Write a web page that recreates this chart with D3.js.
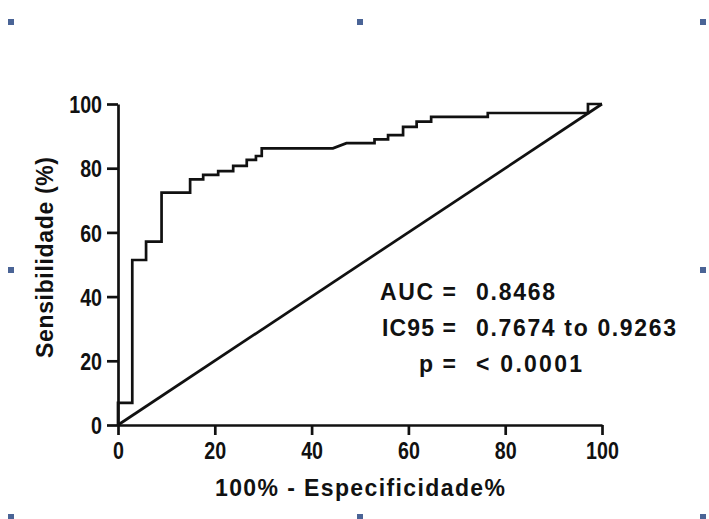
<!DOCTYPE html>
<html>
<head>
<meta charset="utf-8">
<script src="https://cdn.jsdelivr.net/npm/d3@7"></script>
<style>
  body { margin: 0; background: #fff; }
  svg { display: block; }
  .tick text { font-family: "Liberation Sans", Arial, sans-serif; font-weight: bold; font-size: 24px; fill: #111; }
  .label { font-family: "Liberation Sans", Arial, sans-serif; font-weight: bold; font-size: 23px; fill: #111; }
</style>
</head>
<body>
<script>
//ROC curve vertices (100% - specificity, sensitivity)
var fpr = [0, 0, 2.95, 2.95, 5.8, 5.8, 9.0, 9.0, 14.9, 14.9, 17.6, 17.6, 20.7, 20.7, 23.8, 23.8,
	26.6, 26.6, 28.5, 28.5, 29.7, 29.7, 44.4, 47.2, 53.0, 53.0, 55.8, 55.8, 58.9, 58.9,
	61.7, 61.7, 64.7, 64.7, 76.4, 76.4, 97.1, 97.1, 100];
var tpr = [0, 6.9, 6.9, 51.4, 51.4, 57.1, 57.1, 72.4, 72.4, 76.5, 76.5, 77.9, 77.9, 79.1, 79.1, 80.7,
	80.7, 82.6, 82.6, 83.8, 83.8, 86.2, 86.2, 87.8, 87.8, 89.0, 89.0, 90.3, 90.3, 92.9,
	92.9, 94.5, 94.5, 96.0, 96.0, 97.2, 97.2, 100, 100];

//reference line
var refX = [0, 100],
	refY = [0, 100];

var tickValues = [0, 20, 40, 60, 80, 100];

//stats box
var statNames = ["AUC =", "IC95 =", "p ="];
var statValues = ["0.8468", "0.7674 to 0.9263", "< 0.0001"];

var width = 709,
	height = 519;

var svg = d3.select("body")
	.append("svg")
	.attr("width", width)
	.attr("height", height);

//little blue handles round the picture
var handles = [[11, 22], [360, 22], [703, 22], [11, 270], [703, 270], [11, 517], [360, 517], [703, 517]];
svg.selectAll(".handle")
	.data(handles)
	.enter()
	.append("rect")
	.attr("class", "handle")
	.attr("x", function(d){ return d[0] - 3; })
	.attr("y", function(d){ return d[1] - 3; })
	.attr("width", 6)
	.attr("height", 6)
	.attr("fill", "#4a6496");

var x = d3.scaleLinear().domain([0, 100]).range([118, 602]);
var y = d3.scaleLinear().domain([0, 100]).range([425, 104]);

var xAxis = svg.append("g")
	.attr("transform", "translate(0," + y(0) + ")")
	.call(d3.axisBottom(x).tickValues(tickValues).tickSize(10).tickSizeOuter(0).tickPadding(7));

var yAxis = svg.append("g")
	.attr("transform", "translate(" + x(0) + ",0)")
	.call(d3.axisLeft(y).tickValues(tickValues).tickSize(11).tickSizeOuter(0).tickPadding(5));

svg.selectAll(".domain, .tick line")
	.attr("stroke", "#111")
	.attr("stroke-width", 2.7);

//squeeze tick labels sideways, they are narrow in the original
xAxis.selectAll(".tick text").attr("transform", "scale(0.82,1)");
yAxis.selectAll(".tick text")
	.attr("dy", "0.36em")
	.attr("x", -16 / 0.82)
	.attr("transform", "scale(0.82,1)");

//axis titles
svg.append("text")
	.attr("class", "label")
	.attr("x", 215)
	.attr("y", 496)
	.attr("textLength", 290)
	.attr("lengthAdjust", "spacing")
	.text("100%  - Especificidade%");

svg.append("text")
	.attr("class", "label")
	.attr("transform", "translate(53,358) rotate(-90)")
	.attr("textLength", 201)
	.attr("lengthAdjust", "spacing")
	.text("Sensibilidade (%)");

var line = d3.line()
	.x(function(d){ return x(d[0]); })
	.y(function(d){ return y(d[1]); });

svg.append("path")
	.datum(d3.zip(refX, refY))
	.attr("d", line)
	.attr("fill", "none")
	.attr("stroke", "#111")
	.attr("stroke-width", 2.7);

svg.append("path")
	.datum(d3.zip(fpr, tpr))
	.attr("d", line)
	.attr("fill", "none")
	.attr("stroke", "#111")
	.attr("stroke-width", 2.7)
	.attr("stroke-linejoin", "miter");

//stats text
var nameRight = 456,
	valueLeft = 476,
	baselines = [300, 336, 372],
	nameLen = [76, 74, 37],
	valueLen = [79, 200, 106];

statNames.forEach(function(n, i){
	svg.append("text")
		.attr("class", "label")
		.attr("x", nameRight - nameLen[i])
		.attr("y", baselines[i])
		.attr("textLength", nameLen[i])
		.attr("lengthAdjust", "spacing")
		.text(n);
	svg.append("text")
		.attr("class", "label")
		.attr("x", valueLeft)
		.attr("y", baselines[i])
		.attr("textLength", valueLen[i])
		.attr("lengthAdjust", "spacing")
		.text(statValues[i]);
});
</script>
</body>
</html>
